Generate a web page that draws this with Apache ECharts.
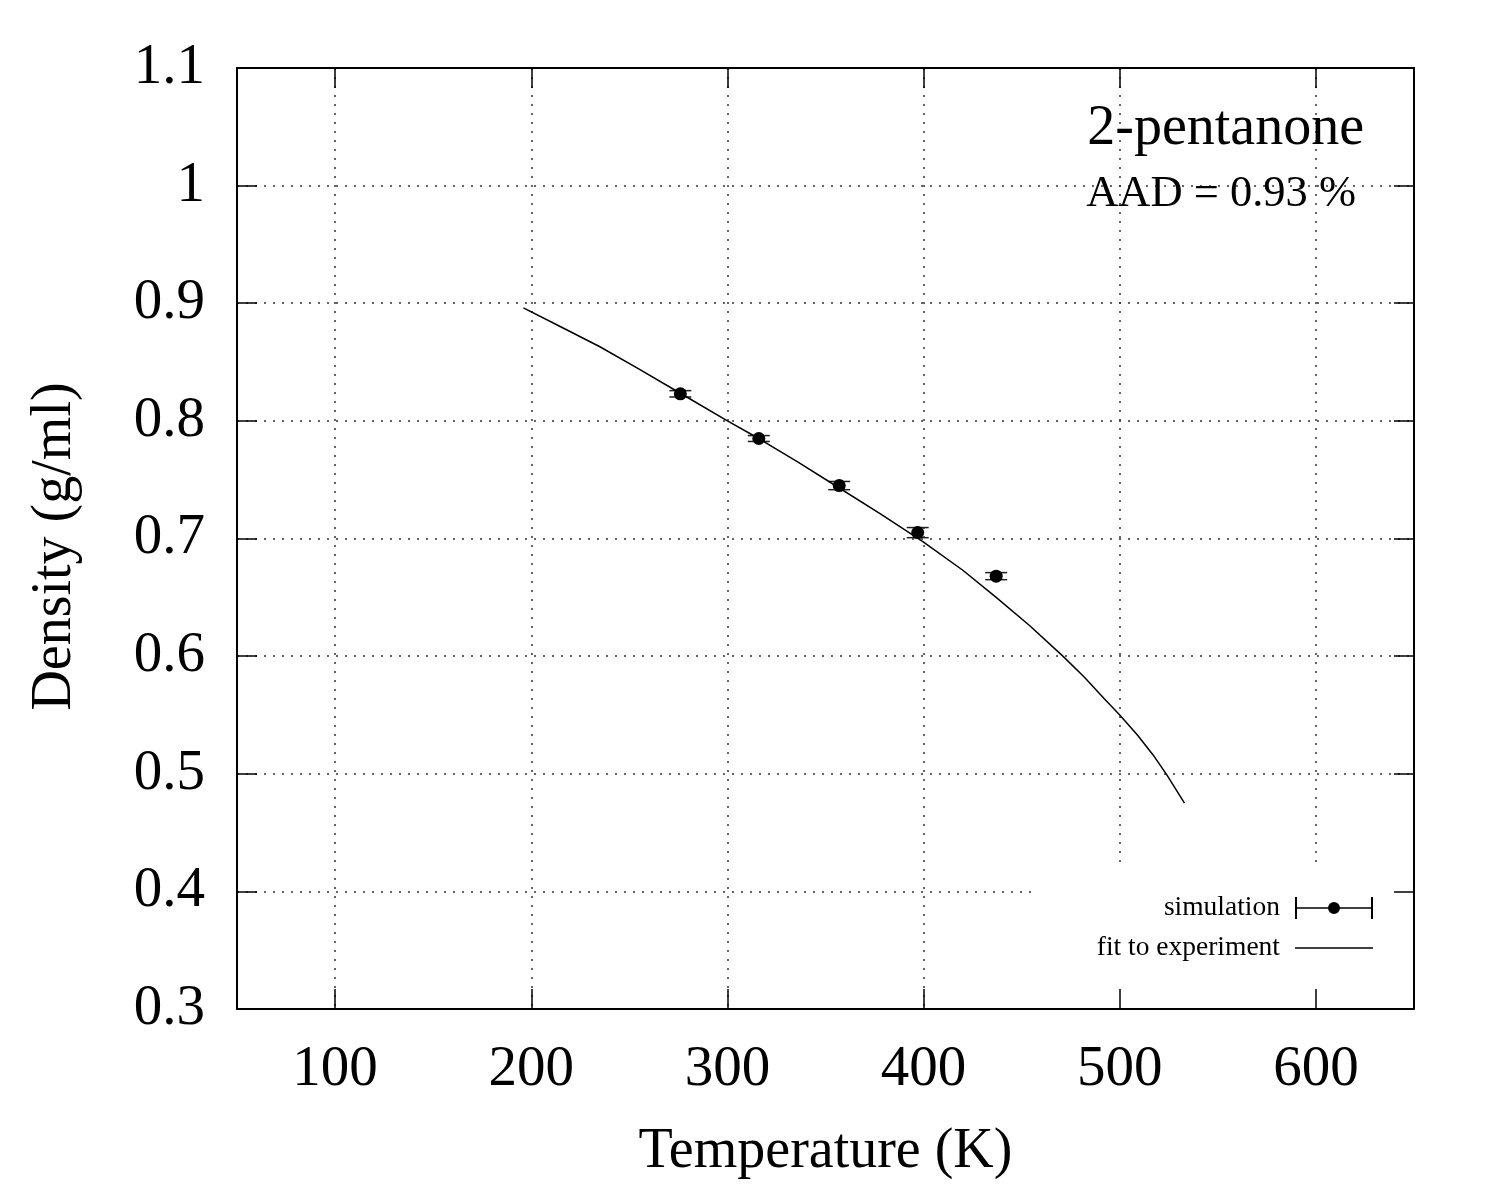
<!DOCTYPE html>
<html lang="en">
<head>
<meta charset="UTF-8">
<title>2-pentanone density</title>
<script src="https://cdn.jsdelivr.net/npm/echarts@6/dist/echarts.min.js"></script>
<style>
  body { margin: 0; background: #fff; }
  #chart { width: 1500px; height: 1200px; }
</style>
</head>
<body>
<div id="chart"></div>
<script>
// simulation points (K, g/ml) with error
const simT = [276, 316, 357, 397, 437];
const simRho = [0.823, 0.785, 0.745, 0.705, 0.668];
const simErr = [0.0027, 0.0025, 0.0035, 0.0043, 0.003];

// fit to experiment
const fitT = [196, 215, 235, 255, 276, 300, 316, 336, 356, 378, 400, 420, 437, 454, 471, 482, 492, 500, 509, 517, 524, 533];
const fitRho = [0.896, 0.880, 0.863, 0.844, 0.8235, 0.800, 0.785, 0.765, 0.744, 0.721, 0.697, 0.673, 0.650, 0.626, 0.600, 0.582, 0.564, 0.550, 0.533, 0.516, 0.499, 0.475];

const font = 'Liberation Serif';
let chart = echarts.init(document.getElementById('chart'));

let simData = simT.map((t, i) => [t, simRho[i], simErr[i]]);
let fitData = fitT.map((t, i) => [t, fitRho[i]]);

function renderErr(params, api) {
    let x = api.value(0), y = api.value(1), e = api.value(2);
    let hi = api.coord([x, y + e]);
    let lo = api.coord([x, y - e]);
    let w = 11;
    let st = { stroke: '#222', lineWidth: 1.5 };
    return {
        type: 'group',
        children: [
            { type: 'line', shape: { x1: hi[0], y1: hi[1], x2: lo[0], y2: lo[1] }, style: st },
            { type: 'line', shape: { x1: hi[0] - w, y1: hi[1], x2: hi[0] + w, y2: hi[1] }, style: st },
            { type: 'line', shape: { x1: lo[0] - w, y1: lo[1], x2: lo[0] + w, y2: lo[1] }, style: st }
        ]
    };
}

let dotted = { show: true, lineStyle: { color: '#333', width: 1.5, type: [2, 7] } };
let tick = { show: true, inside: true, length: 20, lineStyle: { color: '#000', width: 1.5 } };
let line = { show: true, lineStyle: { color: '#000', width: 2 } };

// legend icons: errorbar with dot, plain line
let errIcon = 'path://M0,0H2V22H0Z M0,10.2H78V11.8H0Z M76,0H78V22H76Z M33,11A6,6 0 1 1 45,11A6,6 0 1 1 33,11Z';
let lineIcon = 'path://M0,0H78V1.5H0Z';

let option = {
    backgroundColor: '#fff',
    animation: false,
    textStyle: { fontFamily: font, color: '#000' },
    grid: { left: 237, right: 86, top: 68, bottom: 191, containLabel: false },
    xAxis: [
        {
            type: 'value', position: 'bottom', min: 50, max: 650, splitNumber: 6, z: 3,
            axisLine: line, axisTick: tick, splitLine: { show: false },
            axisLabel: { fontSize: 57, fontFamily: font, color: '#000', margin: 33, showMinLabel: false, showMaxLabel: false },
            name: 'Temperature (K)', nameLocation: 'middle', nameGap: 115,
            nameTextStyle: { fontSize: 56, fontFamily: font, color: '#000' }
        },
        {
            type: 'value', position: 'top', min: 50, max: 650, splitNumber: 6, z: 0,
            axisLine: line, axisTick: tick, splitLine: dotted, axisLabel: { show: false }
        }
    ],
    yAxis: [
        {
            type: 'value', position: 'left', min: 0.3, max: 1.1, interval: 0.1, z: 0,
            axisLine: line, axisTick: tick, splitLine: dotted,
            axisLabel: { fontSize: 57, fontFamily: font, color: '#000', margin: 32, padding: [14, 0, 0, 0] },
            name: 'Density (g/ml)', nameLocation: 'middle', nameGap: 154,
            nameTextStyle: { fontSize: 56, fontFamily: font, color: '#000', padding: [0, 16, 0, 0] }
        },
        {
            type: 'value', position: 'right', min: 0.3, max: 1.1, interval: 0.1, z: 3,
            axisLine: line, axisTick: tick, splitLine: { show: false }, axisLabel: { show: false }
        }
    ],
    legend: [
        {
            data: [{ name: 'simulation', icon: errIcon }],
            right: 127, top: 894, padding: 0, align: 'right',
            itemWidth: 78, itemHeight: 22, selectedMode: false,
            textStyle: { fontSize: 27.5, fontFamily: font, color: '#000', padding: [0, 10, 0, 0] }
        },
        {
            data: [{ name: 'fit to experiment', icon: lineIcon }],
            right: 127, top: 934, padding: 0, align: 'right',
            itemWidth: 78, itemHeight: 1.5, selectedMode: false,
            textStyle: { fontSize: 27.5, fontFamily: font, color: '#000', padding: [0, 10, 0, 0] }
        }
    ],
    graphic: [
        // blank box behind the key
        { type: 'rect', z: 1, shape: { x: 1037, y: 865, width: 376, height: 143 }, style: { fill: '#fff' } },
        {
            type: 'text', right: 136, top: 101, z: 5,
            style: { text: '2-pentanone', font: '56px "Liberation Serif"', fill: '#000' }
        },
        {
            type: 'text', right: 144, top: 172, z: 5,
            style: { text: 'AAD = 0.93 %', font: '44.5px "Liberation Serif"', fill: '#000' }
        }
    ],
    series: [
        {
            name: 'fit to experiment', type: 'line', data: fitData,
            smooth: false, showSymbol: false, symbol: 'none',
            lineStyle: { color: '#000', width: 1.5 }, itemStyle: { color: '#000' }
        },
        {
            name: 'err', type: 'custom', data: simData, renderItem: renderErr,
            encode: { x: 0, y: 1 }, z: 3
        },
        {
            name: 'simulation', type: 'scatter', data: simData, symbolSize: 13,
            itemStyle: { color: '#000', opacity: 1 }, z: 4
        }
    ]
};

chart.setOption(option);
</script>
</body>
</html>
